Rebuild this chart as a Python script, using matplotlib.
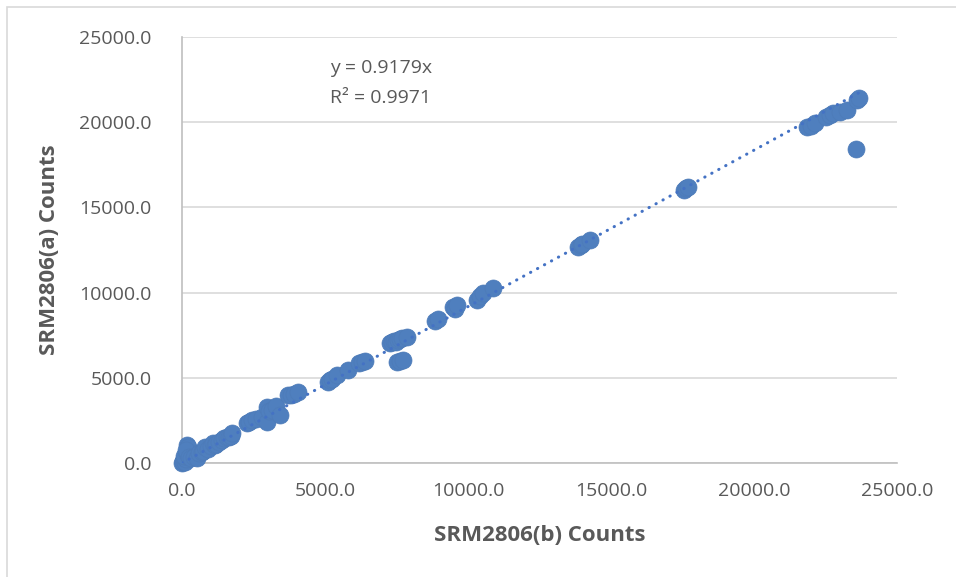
import numpy as np
import matplotlib.pyplot as plt
from matplotlib.patches import Rectangle

plt.rcParams['font.family'] = ['Open Sans', 'DejaVu Sans']

# SRM2806(b) counts vs SRM2806(a) counts
counts_b = [0, 20, 40, 60, 90, 110, 130, 60, 160, 200, 180, 150, 260, 330,
            420, 510, 600, 700, 750, 800, 900, 1000, 1090, 1150, 1200, 1300,
            1400, 1480, 1560, 1650, 1700, 1740,
            2260, 2350, 2450, 2600, 2800, 2960, 2960, 3050, 3150, 3300, 3430,
            3700, 3800, 3900, 4060,
            5100, 5180, 5250, 5420, 5800, 6200, 6290, 6400,
            7270, 7350, 7400, 7480, 7550, 7620, 7700, 7860, 7510, 7620, 7730,
            8850, 8950, 9480, 9550, 9600, 10300, 10420, 10530, 10880,
            13850, 13950, 14000, 14270, 17550, 17620, 17700,
            21840, 22000, 22130, 22500, 22650, 22760, 23000, 23240, 23600,
            23680, 23570]
counts_a = [0, 120, 80, 200, 30, 300, 250, 400, 1060, 940, 600, 750, 350, 300,
            380, 290, 560, 650, 700, 960, 830, 1000, 1170, 1050, 1100, 1260,
            1350, 1450, 1540, 1500, 1600, 1750,
            2330, 2400, 2500, 2600, 2700, 2420, 3300, 3050, 3110, 3350, 2820,
            3990, 4000, 4050, 4170,
            4750, 4850, 4950, 5160, 5460, 5850, 5930, 6000,
            7040, 7100, 7150, 7100, 7220, 7300, 7350, 7400, 5930, 6000, 6040,
            8330, 8450, 9170, 9050, 9250, 9570, 9800, 9970, 10270,
            12680, 12800, 12850, 13090, 16050, 16120, 16200,
            19740, 19800, 19950, 20300, 20400, 20540, 20600, 20720, 21300,
            21420, 18430]

slope = 0.9179
r2 = 0.9971

fig = plt.figure(figsize=(9.56, 5.77), dpi=100)
ax = fig.add_axes([182 / 956, 114 / 577, 715 / 956, 426 / 577])

# chart area border
fig.patches.append(Rectangle((6.5 / 956, -0.05), 1.2, (577 - 6.5) / 577 + 0.05,
                             transform=fig.transFigure, fill=False,
                             edgecolor='#D9D9D9', linewidth=1.2))

ax.scatter(counts_b, counts_a, s=150, color='#4F7FBE', edgecolors='#4D7BB8',
           linewidths=0.5, zorder=3, clip_on=False)

# linear trendline through origin
xs = np.array([min(counts_b), max(counts_b)])
ax.plot(xs, slope * xs, color='#4472C4', linewidth=2.2,
        linestyle=(0, (0.1, 2.5)), dash_capstyle='round', zorder=4)

ax.text(5170, 23180, 'y = 0.9179x', fontsize=14, color='#595959', va='center')
ax.text(5170, 21430, 'R² = 0.9971', fontsize=14, color='#595959', va='center')

ax.set_xlim(0, 25000)
ax.set_ylim(0, 25000)
ticks = np.arange(0, 25001, 5000)
ax.set_xticks(ticks)
ax.set_yticks(ticks)
ax.set_xticklabels(['%.1f' % t for t in ticks])
ax.set_yticklabels(['%.1f' % t for t in ticks])
ax.tick_params(axis='both', length=0, labelsize=14, labelcolor='#595959')
ax.tick_params(axis='x', pad=14)
ax.tick_params(axis='y', pad=22)

ax.grid(axis='y', color='#D9D9D9', linewidth=1.2)
ax.set_axisbelow(True)
for side in ['top', 'right']:
    ax.spines[side].set_visible(False)
for side in ['left', 'bottom']:
    ax.spines[side].set_color('#BFBFBF')
    ax.spines[side].set_linewidth(1.2)

ax.set_xlabel('SRM2806(b) Counts', fontsize=16, fontweight='bold',
              color='#595959', labelpad=18)
ax.set_ylabel('SRM2806(a) Counts', fontsize=16, fontweight='bold',
              color='#595959', labelpad=14)

fig.savefig('out.png', dpi=100)
